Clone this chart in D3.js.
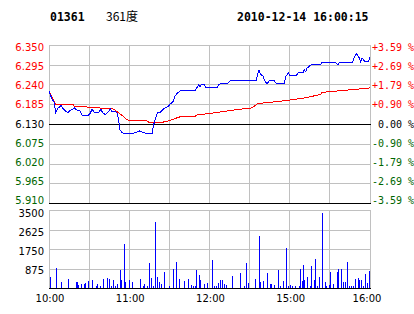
<!DOCTYPE html>
<html>
<head>
<meta charset="utf-8">
<script src="https://cdn.jsdelivr.net/npm/d3@7.9.0/dist/d3.min.js"></script>
<style>
  html, body { margin: 0; padding: 0; background: #fff; }
  text { font-family: "DejaVu Sans", sans-serif; font-size: 10px; }
  .mono { font-family: "DejaVu Sans Mono", monospace; white-space: pre; }
</style>
</head>
<body>
<svg id="chart" width="414" height="314"></svg>
<script>
// header
const code = "01361";
const stockName = "361度";
const stamp = "2010-12-14 16:00:15";

const prevClose = 6.13;
const priceTicks = [6.350, 6.295, 6.240, 6.185, 6.130, 6.075, 6.020, 5.965, 5.910];
const pctLabels = ["+3.59 %", "+2.69 %", "+1.79 %", "+0.90 %", " 0.00 %", "-0.90 %", "-1.79 %", "-2.69 %", "-3.59 %"];
const volTicks = [3500, 2625, 1750, 875];
const timeLabels = ["10:00", "11:00", "12:00", "15:00", "16:00"];

// price line
const priceTimes = ["10:00","10:02","10:04","10:05","10:06","10:07","10:09","10:10","10:12","10:14","10:16","10:18","10:19","10:21","10:23","10:24","10:25","10:29","10:31","10:32","10:33","10:34","10:37","10:38","10:39","10:40","10:42","10:44","10:46","10:47","10:50","10:51","10:52","10:53","10:54","10:55","10:59","11:04","11:07","11:08","11:10","11:13","11:17","11:18","11:20","11:21","11:23","11:25","11:27","11:29","11:31","11:33","11:34","11:36","11:38","11:49","11:50","11:52","11:53","11:54","11:56","11:57","12:06","12:07","12:14","12:16","14:35","14:36","14:37","14:38","14:40","14:41","14:43","14:45","14:48","14:50","14:56","14:57","14:59","15:00","15:05","15:06","15:10","15:11","15:12","15:13","15:16","15:23","15:24","15:34","15:36","15:37","15:47","15:48","15:50","15:52","15:53","15:54","15:56","15:59","16:00"];
const prices = [6.221,6.202,6.189,6.162,6.170,6.175,6.181,6.175,6.167,6.162,6.168,6.172,6.175,6.168,6.167,6.159,6.153,6.153,6.161,6.170,6.168,6.162,6.162,6.168,6.170,6.162,6.156,6.162,6.172,6.165,6.164,6.159,6.142,6.114,6.109,6.105,6.103,6.105,6.109,6.111,6.107,6.103,6.103,6.125,6.150,6.162,6.162,6.170,6.175,6.179,6.187,6.193,6.207,6.216,6.222,6.222,6.228,6.240,6.233,6.240,6.240,6.233,6.233,6.241,6.244,6.252,6.252,6.267,6.281,6.269,6.263,6.252,6.242,6.252,6.252,6.242,6.242,6.263,6.272,6.265,6.265,6.272,6.274,6.281,6.275,6.286,6.295,6.295,6.302,6.302,6.295,6.302,6.302,6.314,6.326,6.314,6.304,6.314,6.304,6.304,6.316];

// average price line
const avgTimes = ["10:00","10:05","10:18","10:19","10:28","10:29","10:38","10:39","10:48","10:50","10:55","10:58","11:02","11:13","11:15","11:25","11:26","11:30","11:34","11:38","11:49","11:51","12:00","12:20","14:32","14:36","14:57","15:10","15:23","15:24","15:59","16:00"];
const avgPrices = [6.221,6.184,6.184,6.179,6.179,6.175,6.175,6.172,6.172,6.167,6.153,6.142,6.139,6.139,6.134,6.134,6.137,6.139,6.145,6.150,6.151,6.156,6.159,6.170,6.175,6.187,6.195,6.202,6.212,6.218,6.230,6.232];

// volume per minute (minutes without trades left out)
const volTimes = ["10:01","10:05","10:09","10:14","10:20","10:21","10:22","10:24","10:26","10:27","10:29","10:32","10:35","10:36","10:38","10:40","10:43","10:45","10:46","10:48","10:49","10:51","10:53","10:54","10:56","10:57","11:00","11:02","11:08","11:10","11:11","11:13","11:15","11:16","11:18","11:19","11:21","11:22","11:24","11:26","11:30","11:33","11:35","11:37","11:41","11:44","11:46","11:48","11:49","11:50","11:52","11:53","11:56","11:58","12:02","12:03","12:05","12:06","12:08","12:09","12:11","12:12","12:17","12:23","12:26","12:27","12:29","14:34","14:37","14:38","14:40","14:43","14:45","14:46","14:48","14:51","14:53","14:55","14:57","14:59","15:00","15:02","15:04","15:07","15:08","15:09","15:10","15:11","15:13","15:15","15:16","15:18","15:19","15:20","15:22","15:24","15:26","15:27","15:29","15:30","15:32","15:35","15:36","15:38","15:40","15:41","15:43","15:44","15:46","15:47","15:49","15:51","15:52","15:53","15:55","15:56","15:58","15:59"];
const volumes = [490,910,280,420,280,280,140,200,160,220,330,370,100,200,100,420,460,420,100,370,100,200,820,370,1990,280,370,280,420,100,200,100,1140,460,100,2980,510,280,200,730,100,870,1180,420,330,420,150,100,100,820,600,370,200,240,1270,100,100,240,370,370,200,150,550,690,100,1140,240,420,2350,280,330,690,200,200,150,820,100,330,1810,100,150,100,100,100,870,330,1050,370,510,100,1000,370,1320,100,510,3380,280,100,150,730,200,730,870,870,280,280,1180,100,100,100,420,460,370,370,100,640,240,780];

// minutes since the open, lunch break removed
function minuteOf(t) {
  const [h, m] = t.split(':').map(Number);
  const mins = h * 60 + m;
  return mins <= 12 * 60 + 30 ? mins - 600 : mins - (14 * 60 + 30) + 150;
}

const svg = d3.select('#chart');
const left = 49, right = 370;
const grid = '#c0c0c0', green = '#006600';

let x = d3.scaleLinear().domain([0, 240]).range([left, right]);
let y = d3.scaleLinear().domain([5.91, 6.35]).range([203, 45]);
let yv = d3.scaleLinear().domain([0, 3500]).range([288, 210]);

function colorOf(p) {
  if (Math.abs(p - prevClose) < 1e-6) return '#000';
  return p > prevClose ? '#f00' : green;
}

// header
svg.append('text').attr('class', 'mono').attr('x', 50).attr('y', 21)
  .style('font-size', '11.5px').style('font-weight', 'bold').text(code);
svg.append('text').attr('x', 106).attr('y', 21)
  .style('font-family', '"Noto Sans CJK SC", sans-serif').style('font-size', '12px').text(stockName);
svg.append('text').attr('class', 'mono').attr('x', 237).attr('y', 21)
  .style('font-size', '11.5px').style('font-weight', 'bold').text(stamp);

const g = svg.append('g').attr('shape-rendering', 'crispEdges');

// vertical grid, every half hour
d3.range(0, 241, 30).forEach(m => {
  const xx = Math.floor(x(m)) + 0.5;
  g.append('line').attr('x1', xx).attr('x2', xx).attr('y1', 45).attr('y2', 203).attr('stroke', grid);
  g.append('line').attr('x1', xx).attr('x2', xx).attr('y1', 210).attr('y2', 288).attr('stroke', grid);
});

// price grid + labels
priceTicks.forEach((p, i) => {
  const yy = Math.round(y(p)) + 0.5;
  const isZero = Math.abs(p - prevClose) < 1e-6;
  const isBottom = i === priceTicks.length - 1;
  g.append('line').attr('x1', left).attr('x2', right + 1).attr('y1', yy).attr('y2', yy)
    .attr('stroke', (isZero || isBottom) ? '#000' : grid);
  const ly = 124 + (y(p) - 124) * 0.965;
  svg.append('text').attr('x', 44).attr('y', ly).attr('dy', '0.35em')
    .attr('text-anchor', 'end').attr('fill', colorOf(p)).text(p.toFixed(3));
  svg.append('text').attr('class', 'mono').attr('x', 372).attr('y', ly).attr('dy', '0.35em')
    .attr('fill', colorOf(p)).text(pctLabels[i]);
});

// volume grid + labels
volTicks.forEach(v => {
  const yy = Math.round(yv(v)) + 0.5;
  g.append('line').attr('x1', left).attr('x2', right + 1).attr('y1', yy).attr('y2', yy).attr('stroke', grid);
  svg.append('text').attr('x', 44).attr('y', yv(v) + 1.5 + v / 3500 * 1.8).attr('dy', '0.35em')
    .attr('text-anchor', 'end').text(v);
});
g.append('line').attr('x1', left).attr('x2', right + 1).attr('y1', 288.5).attr('y2', 288.5).attr('stroke', '#000');

// volume bars
volTimes.forEach((t, i) => {
  const xx = Math.round(x(minuteOf(t)));
  g.append('rect').attr('x', xx).attr('width', 1)
    .attr('y', Math.round(yv(volumes[i]))).attr('height', 288 - Math.round(yv(volumes[i])))
    .attr('fill', '#00f');
});

// time labels
timeLabels.forEach(t => {
  svg.append('text').attr('x', Math.min(x(minuteOf(t)) + 1, 367)).attr('y', 298).attr('dy', '0.35em')
    .attr('text-anchor', 'middle').text(t);
});

// lines
let avgLine = d3.line().x(d => x(minuteOf(d[0]))).y(d => y(d[1]));
g.append('path').attr('d', avgLine(d3.zip(avgTimes, avgPrices)))
  .attr('fill', 'none').attr('stroke', '#f00').attr('stroke-width', 1);
g.append('path').attr('d', avgLine(d3.zip(priceTimes, prices)))
  .attr('fill', 'none').attr('stroke', '#00f').attr('stroke-width', 1);
</script>
</body>
</html>
